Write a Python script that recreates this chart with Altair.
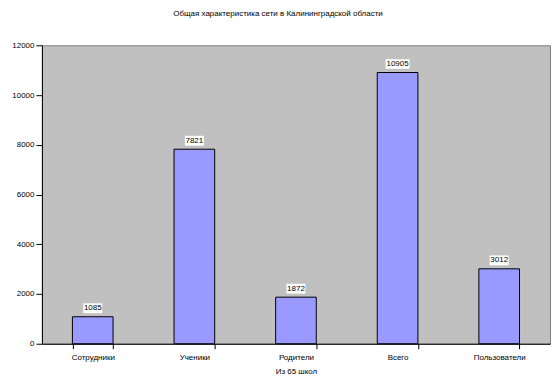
import altair as alt
import pandas as pd

categories = ["Сотрудники", "Ученики", "Родители", "Всего", "Пользователи"]
values = [1085, 7821, 1872, 10905, 3012]
y_ticks = [0, 2000, 4000, 6000, 8000, 10000, 12000]

title_text = "Общая характеристика сети в Калининградской области"
x_title = "Из 65 школ"

df = pd.DataFrame({"cat": categories, "v": values})

FONT = "Liberation Sans"

x = alt.X(
    "cat:N",
    sort=categories,
    title=x_title,
    scale=alt.Scale(paddingInner=0.6, paddingOuter=0.3),
    axis=alt.Axis(
        labelAngle=0,
        tickBand="extent",
        tickSize=5,
        tickColor="black",
        domainColor="black",
        labelFont=FONT,
        labelFontSize=8,
        labelColor="black",
        labelPadding=5,
        titleFont=FONT,
        titleFontSize=8,
        titleFontWeight="normal",
        titleColor="black",
        titlePadding=6,
    ),
)
y = alt.Y(
    "v:Q",
    title=None,
    scale=alt.Scale(domain=[0, 12000], nice=False),
    axis=alt.Axis(
        values=y_ticks,
        format="d",
        grid=False,
        tickSize=6,
        tickColor="black",
        domainColor="black",
        labelFont=FONT,
        labelFontSize=8,
        labelColor="black",
        labelPadding=2,
    ),
)

base = alt.Chart(df)

bars = base.mark_bar(fill="#9999FF", stroke="black", strokeWidth=1).encode(x=x, y=y)

box4 = base.transform_filter("length(toString(datum.v)) == 4").mark_point(
    shape="M-1,-0.52L1,-0.52L1,0.52L-1,0.52Z",
    filled=True,
    fill="white",
    opacity=1,
    size=361,
    yOffset=-8.5,
).encode(x=x, y=y)

box5 = base.transform_filter("length(toString(datum.v)) == 5").mark_point(
    shape="M-1,-0.4L1,-0.4L1,0.4L-1,0.4Z",
    filled=True,
    fill="white",
    opacity=1,
    size=576,
    yOffset=-8.5,
).encode(x=x, y=y)

labels = base.mark_text(
    font=FONT, fontSize=8, color="black", baseline="middle", dy=-8.5
).encode(x=x, y=y, text="v:Q")

chart = (
    alt.layer(bars, box4, box5, labels)
    .properties(
        width=509,
        height=299,
        title=alt.TitleParams(
            text=title_text,
            font=FONT,
            fontSize=8,
            fontWeight="normal",
            color="black",
            offset=23,
            dx=-18,
        ),
        autosize=alt.AutoSizeParams(type="none"),
        padding={"left": 34, "top": 37, "right": 2, "bottom": 37},
        background="white",
    )
    .configure_view(fill="#C0C0C0", stroke="#808080", strokeWidth=1)
)

chart.save("out.html", embed_options={"renderer": "svg", "actions": False})
